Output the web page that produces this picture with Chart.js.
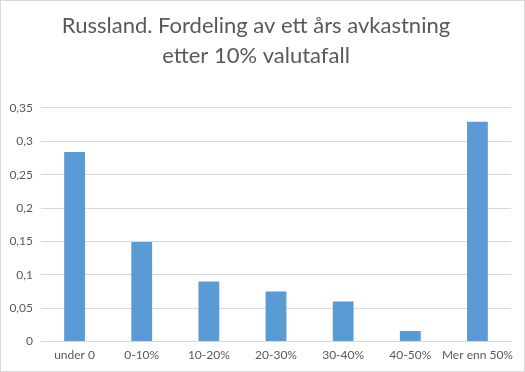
<!DOCTYPE html>
<html>
<head>
<meta charset="utf-8">
<script src="https://cdn.jsdelivr.net/npm/chart.js@4"></script>
<style>
html,body{margin:0;padding:0;background:#fff;}
#wrap{width:525px;height:372px;box-sizing:border-box;border:1px solid #d9d9d9;position:relative;}
</style>
</head>
<body>
<div id="wrap"><canvas id="c" width="523" height="370"></canvas></div>
<script>
const titleLines = ["Russland. Fordeling av ett års avkastning", "etter 10% valutafall"];
const categories = ["under 0", "0-10%", "10-20%", "20-30%", "30-40%", "40-50%", "Mer enn 50%"];
const values = [0.284, 0.149, 0.090, 0.075, 0.060, 0.016, 0.329];
const yMin = 0, yMax = 0.35, yStep = 0.05;

const grey = '#595959';
new Chart(document.getElementById('c'), {
  type: 'bar',
  data: {
    labels: categories,
    datasets: [{
      data: values,
      backgroundColor: '#5b9bd5',
      barPercentage: 0.31,
      categoryPercentage: 1.0
    }]
  },
  options: {
    responsive: false,
    animation: false,
    devicePixelRatio: 1,
    layout: { padding: { left: 0, right: 13, top: 6, bottom: 3 } },
    plugins: {
      legend: { display: false },
      tooltip: { enabled: false },
      title: {
        display: true,
        text: titleLines,
        color: grey,
        font: { family: 'Lato, Calibri, sans-serif', size: 22, weight: 'normal', lineHeight: 1.36 },
        padding: { top: 4, bottom: 37 }
      }
    },
    scales: {
      x: {
        grid: { display: false, drawTicks: false },
        border: { display: true, color: '#d9d9d9' },
        ticks: { color: grey, font: { family: 'Lato, Calibri, sans-serif', size: 12 }, padding: 6, maxRotation: 0, autoSkip: false }
      },
      y: {
        min: yMin, max: yMax,
        afterFit: s => { s.width = 40; },
        grid: { color: '#d9d9d9', drawTicks: false },
        border: { display: false },
        ticks: {
          stepSize: yStep,
          color: grey,
          font: { family: 'Lato, Calibri, sans-serif', size: 12 },
          padding: 8,
          callback: v => (Math.round(v * 100) / 100).toString().replace('.', ',')
        }
      }
    }
  }
});
</script>
</body>
</html>
